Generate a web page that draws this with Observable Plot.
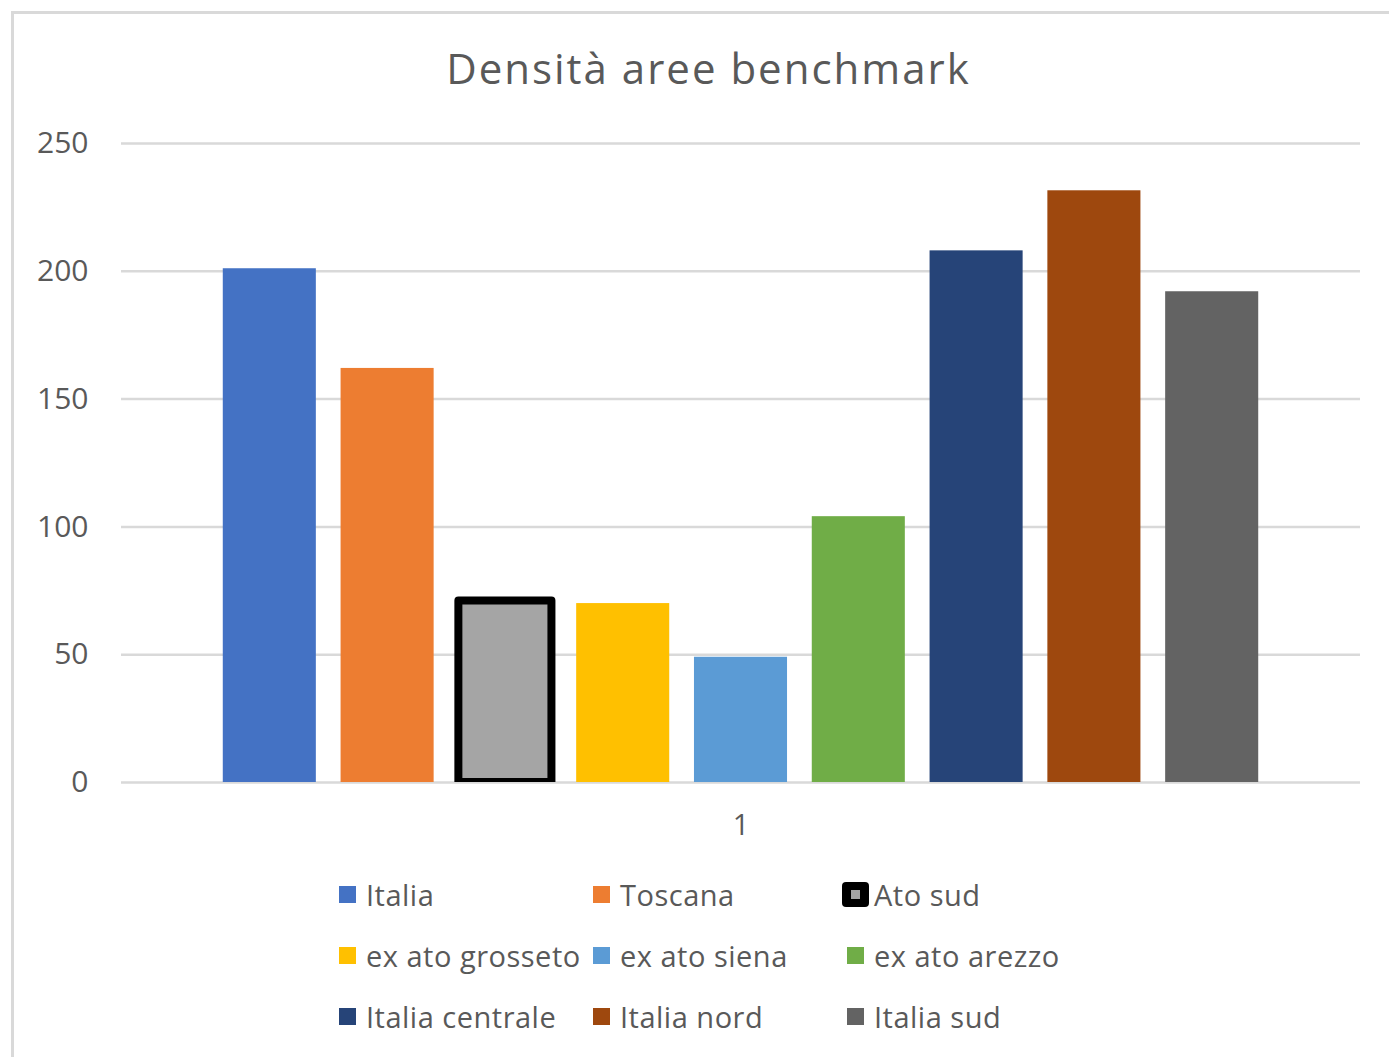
<!DOCTYPE html>
<html lang="it">
<head>
<meta charset="utf-8">
<title>Densità aree benchmark</title>
<script src="https://cdn.jsdelivr.net/npm/d3@7"></script>
<script src="https://cdn.jsdelivr.net/npm/@observablehq/plot@0.6"></script>
<style>
  html, body { margin: 0; padding: 0; background: #fff; overflow: hidden; }
  body { width: 1389px; height: 1057px; position: relative; font-family: "Open Sans", "Noto Sans", sans-serif; color: #595959; }
  #frame { position: absolute; left: 11px; top: 11px; width: 1400px; height: 1100px;
           border-left: 3px solid #d9d9d9; border-top: 3px solid #d9d9d9; box-sizing: border-box; }
  #title { position: absolute; left: 0; width: 1417px; top: 38px; text-align: center;
           font-size: 42px; line-height: 60px; color: #595959; letter-spacing: 2px; }
  #chart { position: absolute; left: 0; top: 0; }
  #legend { position: absolute; left: 0; top: 0; }
  .item { position: absolute; height: 40px; }
  .sw { position: absolute; left: 0; top: 11px; width: 17px; height: 17px; }
  .sw.outlined { left: -5px; top: 7px; width: 27px; height: 25px; background: #000 !important;
                 border-radius: 4px; }
  .sw.outlined::after { content: ""; position: absolute; left: 9px; top: 8px; width: 9px; height: 9px; background: #a5a5a5; }
  .lab { position: absolute; left: 27px; top: 0; font-size: 29px; line-height: 40px; white-space: nowrap;
         color: #595959; letter-spacing: 0.5px; }
</style>
</head>
<body>
<div id="frame"></div>
<div id="title">Densità aree benchmark</div>
<div id="chart"></div>
<div id="legend"></div>
<script>
// Series shown as bars, in order, with their values
const series = ["Italia", "Toscana", "Ato sud", "ex ato grosseto", "ex ato siena",
                "ex ato arezzo", "Italia centrale", "Italia nord", "Italia sud"];
const values = [201, 162, 71, 70, 49, 104, 208, 231.5, 192];
const colors = ["#4472C4", "#ED7D31", "#A5A5A5", "#FFC000", "#5B9BD5",
                "#70AD47", "#264478", "#9E480E", "#636363"];
// The single category on the horizontal axis
const categories = ["1"];
const yTicks = [0, 50, 100, 150, 200, 250];
const highlighted = "Ato sud";

const data = series.map((name, i) => ({cat: categories[0], name, value: values[i]}));

const chart = Plot.plot({
  width: 1389,
  height: 860,
  marginTop: 143,
  marginBottom: 78,
  marginLeft: 121,
  marginRight: 29,
  style: {fontFamily: "'Open Sans', 'Noto Sans', sans-serif", color: "#595959", background: "transparent"},
  fx: {domain: categories, padding: 0, round: false, label: null},
  x: {domain: series, paddingInner: 0.21, paddingOuter: 0.864, round: false, axis: null},
  y: {domain: [0, 250], axis: null},
  color: {domain: series, range: colors},
  marks: [
    Plot.gridY(yTicks, {stroke: "#d9d9d9", strokeOpacity: 1, strokeWidth: 2.5}),
    Plot.axisY(yTicks, {anchor: "left", tickSize: 0, tickPadding: 33, fontSize: 30, fill: "#595959", label: null}),
    Plot.axisFx({anchor: "bottom", tickSize: 0, tickPadding: 32, fontSize: 29, fill: "#595959", label: null}),
    Plot.barY(data.filter(d => d.name !== highlighted), {fx: "cat", x: "name", y: "value", fill: "name"}),
    Plot.barY(data.filter(d => d.name === highlighted), {
      fx: "cat", x: "name", y: "value", fill: "name",
      stroke: "#000", strokeWidth: 8, strokeLinejoin: "round", clip: true
    })
  ]
});
document.getElementById("chart").appendChild(chart);

// Legend: three columns, three rows
const legend = document.getElementById("legend");
const colLeft = [339, 593, 847];
const rowTop = [875, 936, 997];
series.forEach((name, i) => {
  const item = document.createElement("div");
  item.className = "item";
  item.style.left = colLeft[i % 3] + "px";
  item.style.top = rowTop[Math.floor(i / 3)] + "px";
  const sw = document.createElement("div");
  sw.className = "sw" + (name === highlighted ? " outlined" : "");
  sw.style.background = colors[i];
  const lab = document.createElement("div");
  lab.className = "lab";
  lab.textContent = name;
  item.appendChild(sw);
  item.appendChild(lab);
  legend.appendChild(item);
});
</script>
</body>
</html>
